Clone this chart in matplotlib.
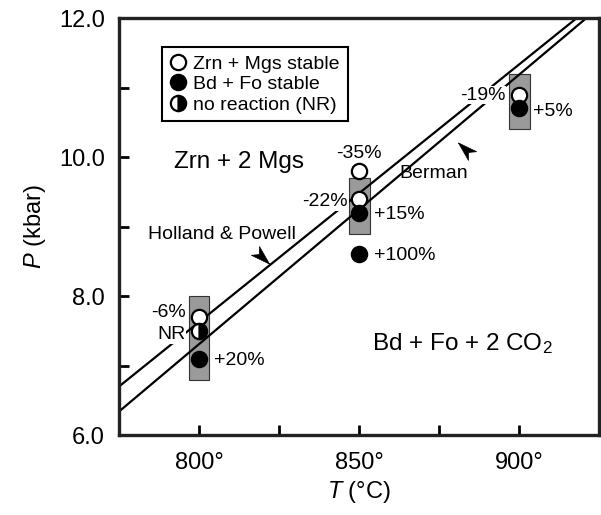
import numpy as np
import matplotlib
matplotlib.use('Agg')
import matplotlib.pyplot as plt
from matplotlib.lines import Line2D
from matplotlib.patches import Rectangle

plt.rcParams['font.family'] = ['Liberation Sans', 'DejaVu Sans']
plt.rcParams['mathtext.fontset'] = 'custom'
plt.rcParams['mathtext.rm'] = 'Liberation Sans'
plt.rcParams['mathtext.it'] = 'Liberation Sans:italic'

### data

# reaction lines (T in C, P in kbar)
hp_T = [775, 918]          # Holland & Powell
hp_P = [6.70, 12.0]
berman_T = [775, 921]      # Berman
berman_P = [6.34, 12.0]

# experiments
open_T = [800, 850, 850, 900]       # Zrn + Mgs stable
open_P = [7.7, 9.8, 9.4, 10.9]
filled_T = [800, 850, 850, 900]     # Bd + Fo stable
filled_P = [7.1, 9.2, 8.6, 10.7]
nr_T = [800]                        # no reaction
nr_P = [7.5]

# bracket boxes
box_T = [800, 850, 900]
box_lo = [6.8, 8.9, 10.4]
box_hi = [8.0, 9.7, 11.2]
box_w = 6.5

# percent labels
pct_text = ['-6%', 'NR', '+20%', '-35%', '-22%', '+15%', '+100%', '-19%', '+5%']
pct_T = [795.8, 795.8, 804.8, 850, 846.6, 854.6, 854.6, 895.8, 904.4]
pct_P = [7.76, 7.45, 7.08, 10.05, 9.36, 9.17, 8.58, 10.89, 10.66]
pct_ha = ['right', 'right', 'left', 'center', 'right', 'left', 'left', 'right', 'left']

# arrowheads pointing at the lines (centre T, centre P, angle on screen)
arr_T = [819.6, 883.2]
arr_P = [8.56, 10.12]
arr_ang = [-43, 137]


def arrowhead(angle):
    # notched arrowhead, tip along +x, then rotated
    v = np.array([[1.0, 0.0], [-1.0, 0.62], [-0.45, 0.0], [-1.0, -0.62], [1.0, 0.0]])
    a = np.radians(angle)
    rot = np.array([[np.cos(a), -np.sin(a)], [np.sin(a), np.cos(a)]])
    return v @ rot.T


fig = plt.figure(figsize=(6.01, 5.15), dpi=100)
ax = fig.add_axes([0.198, 0.155, 0.799, 0.81])

for t, lo, hi in zip(box_T, box_lo, box_hi):
    ax.add_patch(Rectangle((t - box_w / 2, lo), box_w, hi - lo, facecolor='#9a9a9a',
                           edgecolor='#333333', lw=0.8, zorder=1))

ax.plot(hp_T, hp_P, color='k', lw=1.6, zorder=2)
ax.plot(berman_T, berman_P, color='k', lw=1.6, zorder=2)

ms = 11
ax.plot(open_T, open_P, 'o', ms=ms, mfc='white', mec='k', mew=1.6, zorder=5)
ax.plot(filled_T, filled_P, 'o', ms=ms, mfc='k', mec='k', mew=1.6, zorder=5)
ax.plot(nr_T, nr_P, 'o', ms=ms, fillstyle='right', mfc='k', mfcalt='white', mec='k',
        mew=1.6, zorder=5)

for s, t, p, ha in zip(pct_text, pct_T, pct_P, pct_ha):
    ax.text(t, p, s, ha=ha, va='center', fontsize=14, zorder=4,
            bbox=dict(facecolor='white', edgecolor='none', pad=0.5))

# region and line labels
ax.text(812.5, 9.93, 'Zrn + 2 Mgs', ha='center', va='center', fontsize=17.5)
ax.text(882.2, 7.32, 'Bd + Fo + 2 CO$_2$', ha='center', va='center', fontsize=17.5)
ax.text(807.3, 8.89, 'Holland & Powell', ha='center', va='center', fontsize=14)
ax.text(873.4, 9.76, 'Berman', ha='center', va='center', fontsize=14)

for t, p, ang in zip(arr_T, arr_P, arr_ang):
    ax.plot(t, p, ls='none', marker=arrowhead(ang), ms=16, mfc='k', mec='k', mew=0.5,
            zorder=4)

ax.set_xlim(775, 925)
ax.set_ylim(6, 12)
ax.set_xticks([800, 850, 900])
ax.set_xticklabels(['800°', '850°', '900°'])
ax.set_xticks([825, 875], minor=True)
ax.set_yticks([6, 8, 10, 12])
ax.set_yticklabels(['6.0', '8.0', '10.0', '12.0'])
ax.set_yticks([7, 9, 11], minor=True)
ax.tick_params(which='both', direction='in', length=7, width=2, labelsize=17)
ax.tick_params(axis='x', which='both', pad=12)
ax.tick_params(axis='y', which='both', pad=10)
for sp in ax.spines.values():
    sp.set_linewidth(2.4)
    sp.set_color('#222222')

ax.set_xlabel('$T$ (°C)', fontsize=17, labelpad=4)
ax.set_ylabel('$P$ (kbar)', fontsize=17, labelpad=8)

handles = [
    Line2D([], [], ls='none', marker='o', ms=ms, mfc='white', mec='k', mew=1.6),
    Line2D([], [], ls='none', marker='o', ms=ms, mfc='k', mec='k', mew=1.6),
    Line2D([], [], ls='none', marker='o', ms=ms, fillstyle='right', mfc='k',
           mfcalt='white', mec='k', mew=1.6),
]
leg = ax.legend(handles, ['Zrn + Mgs stable', 'Bd + Fo stable', 'no reaction (NR)'],
                loc='upper left', bbox_to_anchor=(0.09, 0.93), fontsize=14,
                fancybox=False, framealpha=1, edgecolor='k', handlelength=0.8,
                handletextpad=0.4, labelspacing=0.15, borderpad=0.4, borderaxespad=0)
leg.get_frame().set_linewidth(1.5)

fig.savefig('out.png', dpi=100)
